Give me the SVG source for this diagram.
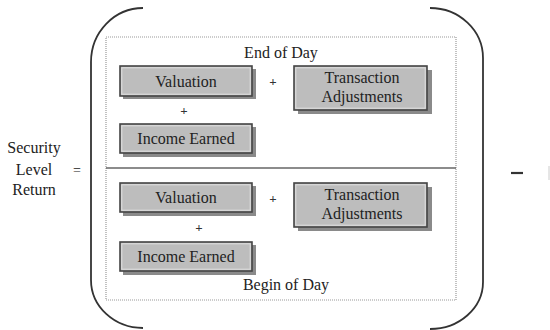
<svg xmlns="http://www.w3.org/2000/svg" width="550" height="330" viewBox="0 0 550 330">
<style>
text{font-family:'Liberation Serif','DejaVu Serif','Times New Roman',serif;font-size:16px;fill:#222;}
.c{text-anchor:middle;}
.p{font-size:13px;font-weight:bold;fill:#333;}
.shadow{fill:#8a8a8a;}
.box{fill:#bdbdbd;stroke:#444;stroke-width:1.6;}
.hl{fill:none;stroke:#e0e0e0;stroke-width:1;}
.br{fill:none;stroke:#333;stroke-width:1.8;}
.dot{fill:none;stroke:#999;stroke-width:1.2;stroke-dasharray:1 1;}
</style>
<rect width="550" height="330" fill="#fff"/>
<g id="brackets">
<path class="br" d="M143,8 A52,54 0 0 0 91,62 L91,280 A52,48 0 0 0 143,328"/>
<path class="br" d="M430,8 A53,50 0 0 1 483,58 L483,282 A53,47 0 0 1 430,329"/>
</g>
<g id="frame">
<rect class="dot" x="106" y="37" width="350" height="263"/>
<line x1="106" y1="168" x2="456" y2="168" stroke="#666" stroke-width="1.4"/>
</g>
<g id="lhs">
<text class="c" x="34" y="153">Security</text>
<text class="c" x="34" y="175">Level</text>
<text class="c" x="34" y="195">Return</text>
<text class="c" x="77" y="175" style="font-size:14px">=</text>
</g>
<g id="minus">
<line x1="511" y1="173" x2="523" y2="173" stroke="#333" stroke-width="2.2"/>
<line x1="549" y1="166" x2="549" y2="180" stroke="#ccc" stroke-width="1"/>
</g>
<g id="end-label"><text class="c" x="281" y="58">End of Day</text></g>
<g id="begin-label"><text class="c" x="286" y="290">Begin of Day</text></g>
<g id="val-end">
<rect class="shadow" x="123" y="69" width="133" height="30"/>
<rect class="box" x="120" y="66" width="132" height="30"/>
<rect class="hl" x="121.8" y="67.8" width="128.4" height="26.4"/>
<text class="c" x="186" y="87">Valuation</text>
</g>
<g id="inc-end">
<rect class="shadow" x="123" y="127" width="133" height="30"/>
<rect class="box" x="120" y="124" width="132" height="29"/>
<rect class="hl" x="121.8" y="125.8" width="128.4" height="25.4"/>
<text class="c" x="186" y="144">Income Earned</text>
</g>
<g id="tx-end">
<rect class="shadow" x="298" y="70" width="134" height="44"/>
<rect class="box" x="294" y="66" width="133" height="44"/>
<rect class="hl" x="295.8" y="67.8" width="129.4" height="40.4"/>
<text class="c" x="362" y="83">Transaction</text>
<text class="c" x="362" y="102">Adjustments</text>
</g>
<g id="val-begin">
<rect class="shadow" x="123" y="186" width="133" height="30"/>
<rect class="box" x="120" y="183" width="132" height="29"/>
<rect class="hl" x="121.8" y="184.8" width="128.4" height="25.4"/>
<text class="c" x="186" y="203">Valuation</text>
</g>
<g id="inc-begin">
<rect class="shadow" x="123" y="245" width="133" height="30"/>
<rect class="box" x="120" y="242" width="132" height="29"/>
<rect class="hl" x="121.8" y="243.8" width="128.4" height="25.4"/>
<text class="c" x="186" y="262">Income Earned</text>
</g>
<g id="tx-begin">
<rect class="shadow" x="298" y="187" width="134" height="44"/>
<rect class="box" x="294" y="183" width="133" height="44"/>
<rect class="hl" x="295.8" y="184.8" width="129.4" height="40.4"/>
<text class="c" x="362" y="200">Transaction</text>
<text class="c" x="362" y="219">Adjustments</text>
</g>
<g id="connectors">
<text class="c p" x="273" y="86">+</text>
<text class="c p" x="184" y="115">+</text>
<text class="c p" x="273" y="203">+</text>
<text class="c p" x="199" y="232">+</text>
</g>
</svg>
